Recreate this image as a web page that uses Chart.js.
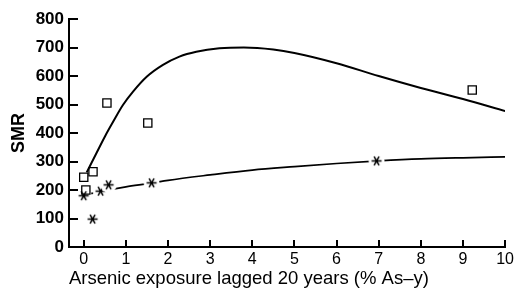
<!DOCTYPE html>
<html>
<head>
<meta charset="utf-8">
<script src="https://cdn.jsdelivr.net/npm/chart.js@4.4.1/dist/chart.umd.min.js"></script>
<style>
  html, body { margin: 0; padding: 0; background: #fff; }
  #wrap { width: 517px; height: 293px; }
</style>
</head>
<body>
<div id="wrap"><canvas id="smrChart"></canvas></div>
<script>
// observed points
const squareX = [0, 0.05, 0.22, 0.55, 1.52, 9.22];
const squareY = [245, 200, 264, 505, 435, 551];
const starX = [0, 0.21, 0.4, 0.59, 1.61, 6.95];
const starY = [180, 98, 196, 218, 225, 302];

// fitted curves
const upperX = [0.07, 0.3, 0.5, 0.7, 0.93, 1.17, 1.5, 1.88, 2.27, 2.67, 3.22, 3.8, 4.5, 5, 6, 7, 8, 9, 10];
const upperY = [262, 329, 387, 440, 498, 545, 598, 639, 668, 685, 697, 700, 693, 681, 645, 600, 558, 519, 477];
const lowerX = [0, 0.5, 1, 1.6, 2, 3, 4, 5, 6, 7, 8, 9, 10];
const lowerY = [182, 198, 211, 224, 234, 253, 270, 282, 293, 302, 309, 313, 316];

const xTicks = [0, 1, 2, 3, 4, 5, 6, 7, 8, 9, 10];
const yTicks = [0, 100, 200, 300, 400, 500, 600, 700, 800];

function pts(xs, ys) {
    return xs.map((x, i) => ({x: x, y: ys[i]}));
}

// six-armed asterisk marker, white halo leaves a gap in the curve
const asterisk = document.createElement('canvas');
asterisk.width = 17;
asterisk.height = 17;
(function() {
    const g = asterisk.getContext('2d');
    g.fillStyle = '#fff';
    g.beginPath();
    g.arc(8.5, 8.5, 8, 0, Math.PI * 2);
    g.fill();
    g.strokeStyle = '#000';
    g.lineWidth = 1.5;
    g.beginPath();
    for (let k = 0; k < 3; k++) {
        const a = k * Math.PI / 3;
        g.moveTo(8.5 - 5 * Math.cos(a), 8.5 - 5 * Math.sin(a));
        g.lineTo(8.5 + 5 * Math.cos(a), 8.5 + 5 * Math.sin(a));
    }
    g.stroke();
})();

// inward tick marks
const innerTicks = {
    id: 'innerTicks',
    afterDraw(chart) {
        const c = chart.ctx, a = chart.chartArea;
        const xs = chart.scales.x, ys = chart.scales.y;
        c.save();
        c.strokeStyle = '#000';
        c.lineWidth = 2;
        c.beginPath();
        yTicks.forEach(v => {
            const y = Math.round(ys.getPixelForValue(v));
            c.moveTo(a.left, y);
            c.lineTo(a.left + 9, y);
        });
        xTicks.forEach(v => {
            const x = Math.round(xs.getPixelForValue(v));
            c.moveTo(x, a.bottom);
            c.lineTo(x, a.bottom - 7);
        });
        c.stroke();
        c.restore();
    }
};

new Chart(document.getElementById('smrChart'), {
    type: 'scatter',
    data: {
        datasets: [
            {
                data: pts(upperX, upperY),
                showLine: true,
                borderColor: '#000',
                borderWidth: 2,
                pointRadius: 0,
                cubicInterpolationMode: 'monotone',
                order: 2
            },
            {
                data: pts(lowerX, lowerY),
                showLine: true,
                borderColor: '#000',
                borderWidth: 1.7,
                pointRadius: 0,
                cubicInterpolationMode: 'monotone',
                order: 2
            },
            {
                data: pts(starX, starY),
                pointStyle: asterisk,
                pointRadius: 6,
                order: 1
            },
            {
                data: pts(squareX, squareY),
                pointStyle: 'rect',
                pointRadius: 5.8,
                borderColor: '#000',
                backgroundColor: 'rgba(0,0,0,0)',
                borderWidth: 1.3,
                order: 0
            }
        ]
    },
    options: {
        responsive: true,
        maintainAspectRatio: false,
        animation: false,
        layout: { padding: { top: 19, right: 11, left: 0, bottom: 0 } },
        plugins: {
            legend: { display: false },
            tooltip: { enabled: false }
        },
        scales: {
            x: {
                type: 'linear',
                min: -0.35,
                max: 10,
                afterBuildTicks: s => { s.ticks = xTicks.map(v => ({value: v})); },
                afterFit: s => { s.height = 46; },
                grid: { display: false, drawTicks: false },
                border: { display: true, color: '#000', width: 2 },
                ticks: {
                    color: '#000',
                    padding: 3,
                    maxRotation: 0,
                    font: { family: 'Liberation Sans', size: 16 }
                },
                title: {
                    display: true,
                    align: 'start',
                    text: 'Arsenic exposure lagged 20 years (% As–y)',
                    color: '#000',
                    padding: { top: 0, bottom: 3 },
                    font: { family: 'Liberation Sans', size: 18.5 }
                }
            },
            y: {
                min: 0,
                max: 800,
                afterBuildTicks: s => { s.ticks = yTicks.map(v => ({value: v})); },
                afterFit: s => { s.width = 69; },
                grid: { display: false, drawTicks: false },
                border: { display: true, color: '#000', width: 2 },
                ticks: {
                    color: '#000',
                    padding: 5,
                    font: { family: 'Liberation Sans', size: 17, weight: 'bold' }
                },
                title: {
                    display: true,
                    text: 'SMR',
                    color: '#000',
                    padding: { top: 8, bottom: 0 },
                    font: { family: 'Liberation Sans', size: 18, weight: 'bold' }
                }
            }
        }
    },
    plugins: [innerTicks]
});
</script>
</body>
</html>
